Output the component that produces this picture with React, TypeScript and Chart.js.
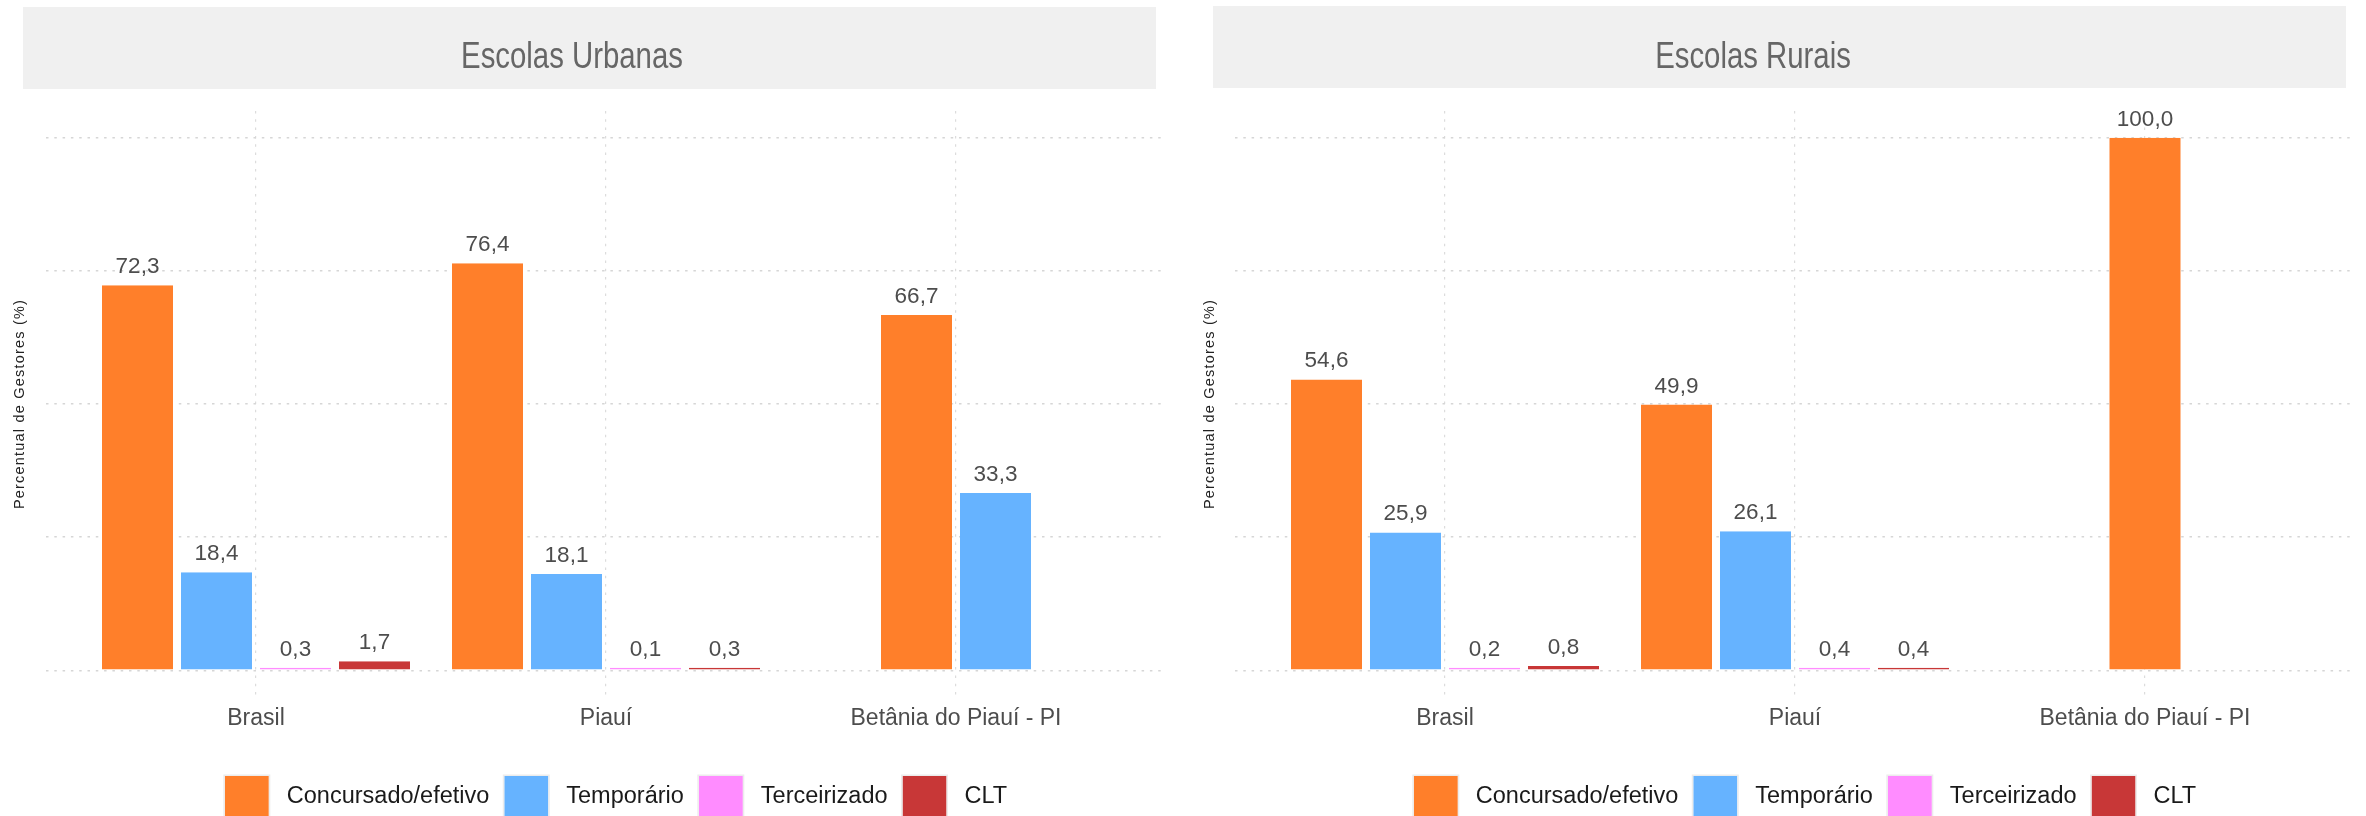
import React, { useEffect, useRef } from 'react';
import { Chart, registerables } from 'chart.js';

Chart.register(...registerables);

// ---------------- data ----------------
const categories = ['Brasil', 'Piauí', 'Betânia do Piauí - PI'];
const seriesNames = ['Concursado/efetivo', 'Temporário', 'Terceirizado', 'CLT'];
const seriesColors = ['#FF7F2A', '#66B3FF', '#FF8CFF', '#C83737'];

const urbanConcursado = [72.3, 76.4, 66.7];
const urbanTemporario = [18.4, 18.1, 33.3];
const urbanTerceirizado = [0.3, 0.1, null];
const urbanCLT = [1.7, 0.3, null];

const ruralConcursado = [54.6, 49.9, 100.0];
const ruralTemporario = [25.9, 26.1, null];
const ruralTerceirizado = [0.2, 0.4, null];
const ruralCLT = [0.8, 0.4, null];

const yTicks = [0, 25, 50, 75, 100];
const panelTitles = ['Escolas Urbanas', 'Escolas Rurais'];
const yAxisTitle = 'Percentual de Gestores (%)';

// ---------------- styling ----------------
const FONT = '"Liberation Sans", Arial, Helvetica, sans-serif';
const CANVAS_W = 1183;
const CANVAS_H = 816;

Chart.defaults.font.family = FONT;

const fmt = (v: number) => v.toFixed(1).replace('.', ',');

const panelPlugin = {
  id: 'panelDecor',
  beforeDraw(chart: any, _args: any, opts: any) {
    const ctx = chart.ctx as CanvasRenderingContext2D;
    // strip
    ctx.save();
    ctx.fillStyle = '#f0f0f0';
    ctx.fillRect(opts.stripL, opts.stripT, opts.stripR - opts.stripL, opts.stripB - opts.stripT);
    ctx.fillStyle = '#666666';
    ctx.font = `36px ${FONT}`;
    ctx.textAlign = 'center';
    ctx.textBaseline = 'alphabetic';
    ctx.translate(opts.titleX, opts.titleBaseline);
    ctx.scale(0.815, 1);
    ctx.fillText(opts.title, 0, 0);
    ctx.restore();
    // y-axis title
    ctx.save();
    const ca = chart.chartArea;
    ctx.translate(opts.yTitleX, (ca.top + ca.bottom) / 2);
    ctx.rotate(-Math.PI / 2);
    ctx.font = `14.5px ${FONT}`;
    (ctx as any).letterSpacing = '1.2px';
    ctx.fillStyle = '#222222';
    ctx.textAlign = 'center';
    ctx.textBaseline = 'middle';
    ctx.fillText(yAxisTitle, 0, 0);
    ctx.restore();
  },
  afterDatasetsDraw(chart: any) {
    const ctx = chart.ctx as CanvasRenderingContext2D;
    ctx.save();
    ctx.font = `22.5px ${FONT}`;
    ctx.fillStyle = '#4d4d4d';
    ctx.textAlign = 'center';
    ctx.textBaseline = 'alphabetic';
    chart.data.datasets.forEach((ds: any, di: number) => {
      const meta = chart.getDatasetMeta(di);
      meta.data.forEach((bar: any, i: number) => {
        const v = ds.data[i];
        if (v === null || v === undefined || !isFinite(bar.x) || !isFinite(bar.y)) return;
        ctx.fillText(fmt(v), bar.x, bar.y - 12);
      });
    });
    ctx.restore();
  },
  afterDraw(chart: any) {
    const ctx = chart.ctx as CanvasRenderingContext2D;
    const ca = chart.chartArea;
    ctx.save();
    ctx.font = `23.5px ${FONT}`;
    const box = 44;
    const gapText = 18;
    const gapItem = 15;
    const widths = seriesNames.map((n) => ctx.measureText(n).width);
    const total = widths.reduce((a, w) => a + box + gapText + w, 0) + gapItem * (seriesNames.length - 1);
    let x = (ca.left + ca.right) / 2 + 10 - total / 2;
    const top = 776;
    seriesNames.forEach((name, k) => {
      ctx.fillStyle = seriesColors[k];
      ctx.fillRect(x, top, box, box);
      ctx.strokeStyle = '#ececec';
      ctx.lineWidth = 1.5;
      ctx.strokeRect(x - 0.75, top - 0.75, box + 1.5, box + 1.5);
      ctx.fillStyle = '#1a1a1a';
      ctx.textAlign = 'left';
      ctx.textBaseline = 'middle';
      ctx.fillText(name, x + box + gapText, top + 21);
      x += box + gapText + widths[k] + gapItem;
    });
    ctx.restore();
  },
};

type PanelProps = {
  title: string;
  series: (number | null)[][];
  left: number;
  yAxisWidth: number;
  padRight: number;
  stripL: number;
  stripR: number;
  stripT: number;
  stripB: number;
  titleX: number;
  yTitleX: number;
};

function Panel(p: PanelProps) {
  const ref = useRef<HTMLCanvasElement | null>(null);
  useEffect(() => {
    if (!ref.current) return;
    const chart = new Chart(ref.current, {
      type: 'bar',
      data: {
        labels: categories.map((_, i) => i),
        datasets: seriesNames.map((name, k) => ({
          label: name,
          data: p.series[k],
          backgroundColor: seriesColors[k],
          borderColor: 'rgba(0,0,0,0)',
          borderWidth: { left: 4, right: 4, top: 0, bottom: 0 },
          barThickness: 79,
          inflateAmount: 0,
          minBarLength: 2.5,
          skipNull: true,
        })) as any,
      },
      options: {
        responsive: false,
        maintainAspectRatio: false,
        animation: false,
        events: [],
        layout: { padding: { top: 111, left: 0, right: p.padRight, bottom: 0 } },
        plugins: {
          legend: { display: false },
          tooltip: { enabled: false },
          title: { display: false },
          panelDecor: {
            title: p.title,
            stripL: p.stripL,
            stripR: p.stripR,
            stripT: p.stripT,
            stripB: p.stripB,
            titleX: p.titleX,
            titleBaseline: 68,
            yTitleX: p.yTitleX,
          },
        } as any,
        scales: {
          x: {
            type: 'linear',
            min: -0.6,
            max: 2.6,
            offset: false,
            afterBuildTicks: (s: any) => {
              s.ticks = categories.map((_, i) => ({ value: i }));
            },
            afterFit: (s: any) => {
              s.height = CANVAS_H - 697;
            },
            grid: { offset: false, color: '#dcdcdc', lineWidth: 1.2, drawTicks: false },
            border: { display: false, dash: [2.5, 5.8] },
            ticks: {
              callback: (v: any) => categories[v as number],
              color: '#4d4d4d',
              font: { size: 23, family: FONT },
              padding: 8,
              maxRotation: 0,
              autoSkip: false,
            },
          },
          y: {
            min: -5,
            max: 105,
            afterBuildTicks: (s: any) => {
              s.ticks = yTicks.map((v) => ({ value: v }));
            },
            afterFit: (s: any) => {
              s.width = p.yAxisWidth;
            },
            grid: { color: '#d6d6d6', lineWidth: 1.6, drawTicks: false },
            border: { display: false, dash: [2.5, 5.8] },
            ticks: { display: false },
          },
        } as any,
      },
      plugins: [panelPlugin as any],
    });
    return () => chart.destroy();
  }, []);
  return (
    <canvas
      ref={ref}
      width={CANVAS_W}
      height={CANVAS_H}
      style={{ position: 'absolute', left: p.left, top: 0, width: CANVAS_W, height: CANVAS_H }}
    />
  );
}

export default function App() {
  return (
    <div style={{ position: 'fixed', left: 0, top: 0, width: 2366, height: 816, background: '#ffffff', overflow: 'hidden' }}>
      <Panel
        title={panelTitles[0]}
        series={[urbanConcursado, urbanTemporario, urbanTerceirizado, urbanCLT]}
        left={0}
        yAxisWidth={46}
        padRight={17}
        stripL={23}
        stripR={1156}
        stripT={7}
        stripB={89}
        titleX={572}
        yTitleX={20}
      />
      <Panel
        title={panelTitles[1]}
        series={[ruralConcursado, ruralTemporario, ruralTerceirizado, ruralCLT]}
        left={1183}
        yAxisWidth={52}
        padRight={11}
        stripL={30}
        stripR={1163}
        stripT={6}
        stripB={88}
        titleX={570}
        yTitleX={27}
      />
    </div>
  );
}
